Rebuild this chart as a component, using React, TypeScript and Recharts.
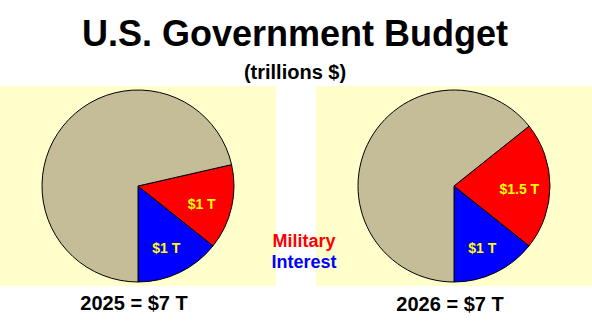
import React from 'react';
import { PieChart, Pie, Cell } from 'recharts';

const categories = ['Interest', 'Military', 'Other'];
const values2025 = [1, 1, 5];
const values2026 = [1, 1.5, 4.5];
const sliceLabels2025 = ['$1 T', '$1 T', ''];
const sliceLabels2026 = ['$1 T', '$1.5 T', ''];
const colors = ['#0000FF', '#FF0000', '#C4BD97'];

const data2025 = categories.map((name, i) => ({ name, value: values2025[i], label: sliceLabels2025[i] }));
const data2026 = categories.map((name, i) => ({ name, value: values2026[i], label: sliceLabels2026[i] }));

const FONT = '"Liberation Sans", Arial, Helvetica, sans-serif';

const RADIAN = Math.PI / 180;
const renderLabel = (props: any) => {
  const { cx, cy, midAngle, outerRadius, payload } = props;
  const text = payload?.label ?? props.label;
  if (!text) return null;
  const r = outerRadius * 0.68;
  const x = cx + r * Math.cos(-midAngle * RADIAN);
  const y = cy + r * Math.sin(-midAngle * RADIAN) + 3;
  return (
    <text x={x} y={y} fill="#FFFF00" fontFamily={FONT} fontWeight="bold" fontSize={14} textAnchor="middle" dominantBaseline="central">
      {text}
    </text>
  );
};

export default function App() {
  return (
    <div style={{ position: 'absolute', left: 0, top: 0, width: 592, height: 330, background: '#fff', fontFamily: FONT }}>
      <svg width={592} height={330} style={{ position: 'absolute', left: 0, top: 0 }}>
        <rect x={0} y={86} width={276} height={200} fill="#FFFFCC" />
        <rect x={316} y={86} width={276} height={200} fill="#FFFFCC" />
      </svg>
      <div style={{ position: 'absolute', left: 0, top: 0 }}>
        <PieChart width={592} height={330} margin={{ top: 0, right: 0, bottom: 0, left: 0 }}>
          <Pie
            data={data2025}
            dataKey="value"
            cx={138}
            cy={186}
            outerRadius={96}
            startAngle={-90}
            endAngle={270}
            stroke="#000"
            strokeWidth={1}
            label={renderLabel}
            labelLine={false}
            isAnimationActive={false}
          >
            {data2025.map((d, i) => (
              <Cell key={d.name} fill={colors[i]} />
            ))}
          </Pie>
          <Pie
            data={data2026}
            dataKey="value"
            cx={454}
            cy={186}
            outerRadius={96}
            startAngle={-90}
            endAngle={270}
            stroke="#000"
            strokeWidth={1}
            label={renderLabel}
            labelLine={false}
            isAnimationActive={false}
          >
            {data2026.map((d, i) => (
              <Cell key={d.name} fill={colors[i]} />
            ))}
          </Pie>
        </PieChart>
      </div>
      <svg width={592} height={330} style={{ position: 'absolute', left: 0, top: 0, pointerEvents: 'none' }}>
        <text x={295} y={46} textAnchor="middle" fontFamily={FONT} fontWeight="bold" fontSize={36} fill="#000">
          U.S. Government Budget
        </text>
        <text x={295} y={79} textAnchor="middle" fontFamily={FONT} fontWeight="bold" fontSize={20} fill="#000">
          (trillions $)
        </text>
        <text x={304} y={247} textAnchor="middle" fontFamily={FONT} fontWeight="bold" fontSize={18} fill="#FF0000">
          Military
        </text>
        <text x={304} y={268} textAnchor="middle" fontFamily={FONT} fontWeight="bold" fontSize={18} fill="#0000FF">
          Interest
        </text>
        <text x={134} y={310} textAnchor="middle" fontFamily={FONT} fontWeight="bold" fontSize={20} fill="#000">
          2025 = $7 T
        </text>
        <text x={450} y={311} textAnchor="middle" fontFamily={FONT} fontWeight="bold" fontSize={20} fill="#000">
          2026 = $7 T
        </text>
      </svg>
    </div>
  );
}
